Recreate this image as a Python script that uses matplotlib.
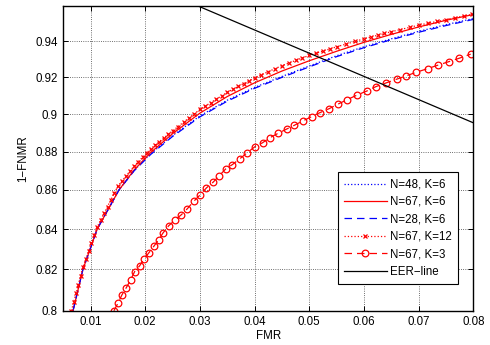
import matplotlib
matplotlib.use("Agg")
import matplotlib.pyplot as plt
from matplotlib.ticker import NullLocator, FixedLocator, FixedFormatter

plt.rcParams['font.family'] = ['Liberation Sans', 'DejaVu Sans']

# ---- data ----
x_k6_67 = [0.0068, 0.0086, 0.0112, 0.0152, 0.018, 0.021, 0.025, 0.030, 0.035, 0.040,
           0.045, 0.050, 0.055, 0.060, 0.065, 0.070, 0.075, 0.080]
y_k6_67 = [0.800, 0.820, 0.840, 0.860, 0.8705, 0.8795, 0.8895, 0.9005, 0.9095, 0.9170,
           0.9235, 0.9292, 0.9345, 0.9395, 0.9440, 0.9482, 0.9520, 0.9553]

x_k6_28 = [0.0068, 0.0086, 0.0112, 0.0152, 0.018, 0.021, 0.025, 0.030, 0.035, 0.040,
           0.045, 0.050, 0.055, 0.060, 0.065, 0.070, 0.075, 0.080]
y_k6_28 = [0.800, 0.820, 0.840, 0.860, 0.870, 0.8785, 0.8880, 0.8985, 0.907, 0.914,
           0.920, 0.9258, 0.9315, 0.9365, 0.941, 0.9452, 0.949, 0.9525]

x_k6_48 = [0.0068, 0.0086, 0.0112, 0.0152, 0.018, 0.021, 0.025, 0.030, 0.035, 0.040,
           0.045, 0.050, 0.055, 0.060, 0.065, 0.070, 0.075, 0.080]
y_k6_48 = [0.800, 0.820, 0.840, 0.860, 0.8702, 0.8789, 0.8885, 0.8990, 0.9075, 0.9145,
           0.9205, 0.9263, 0.9320, 0.9370, 0.9415, 0.9457, 0.9495, 0.9530]

x_k12 = [0.0065, 0.00692, 0.00734, 0.00776, 0.00818, 0.0086, 0.00912, 0.00964, 0.01016,
         0.01068, 0.0112, 0.01183, 0.01247, 0.0131, 0.01373, 0.01437, 0.0150, 0.01575,
         0.0165, 0.01725, 0.0180, 0.01875, 0.0195, 0.02025, 0.0210, 0.0218, 0.0226,
         0.0234, 0.0242, 0.0250, 0.026, 0.027, 0.028, 0.029, 0.030, 0.031, 0.032, 0.033,
         0.034, 0.035, 0.036, 0.037, 0.038, 0.039, 0.040, 0.04125, 0.0425, 0.04375, 0.045,
         0.04625, 0.0475, 0.04875, 0.050, 0.05125, 0.0525, 0.05375, 0.055, 0.05667,
         0.05833, 0.060, 0.06125, 0.0625, 0.06375, 0.065, 0.06667, 0.06833, 0.070,
         0.07167, 0.07333, 0.075, 0.07667, 0.07833, 0.0798]
y_k12 = [0.8000, 0.8042, 0.8084, 0.8126, 0.8168, 0.8210, 0.8250, 0.8290, 0.8330, 0.8370,
         0.8410, 0.8445, 0.8480, 0.8515, 0.8550, 0.8585, 0.8620, 0.86463, 0.86725, 0.86988,
         0.8725, 0.87475, 0.8770, 0.87925, 0.8815, 0.8834, 0.8853, 0.8872, 0.8891, 0.8910,
         0.8933, 0.8956, 0.8979, 0.9002, 0.9025, 0.90436, 0.90622, 0.90808, 0.90994, 0.9118,
         0.9134, 0.9150, 0.9166, 0.9182, 0.9198, 0.92148, 0.92315, 0.92483, 0.9265, 0.92793,
         0.92935, 0.93078, 0.9322, 0.9334, 0.9346, 0.9358, 0.9370, 0.9385, 0.9400, 0.9415,
         0.9425, 0.9435, 0.9445, 0.9455, 0.94673, 0.94797, 0.9492, 0.95027, 0.95133, 0.9524,
         0.95343, 0.95447, 0.9554]

x_k3 = [0.01427, 0.01500, 0.01573, 0.01654, 0.01733, 0.01806, 0.01897, 0.01976, 0.02062,
        0.02154, 0.02245, 0.02324, 0.02429, 0.02538, 0.02661, 0.02771, 0.02886, 0.02996,
        0.03119, 0.03240, 0.03344, 0.03473, 0.03595, 0.03729, 0.03863, 0.04004, 0.04145,
        0.04278, 0.04425, 0.04584, 0.04723, 0.04883, 0.05042, 0.05194, 0.05364, 0.05529,
        0.05694, 0.05872, 0.06049, 0.06220, 0.06403, 0.06595, 0.06769, 0.06958, 0.07172,
        0.07350, 0.07551, 0.07745, 0.07951]
y_k3 = [0.8000, 0.80357, 0.80758, 0.81113, 0.81490, 0.81897, 0.82178, 0.82510, 0.82808,
        0.83137, 0.83472, 0.83809, 0.84178, 0.84446, 0.84736, 0.85042, 0.85416, 0.85725,
        0.86106, 0.86397, 0.86709, 0.87095, 0.87321, 0.87620, 0.87937, 0.88254, 0.88467,
        0.88733, 0.88962, 0.89193, 0.89391, 0.89633, 0.89860, 0.90076, 0.90293, 0.90543,
        0.90782, 0.91028, 0.91247, 0.91494, 0.91693, 0.91897, 0.92079, 0.92284, 0.92490,
        0.92673, 0.92869, 0.93064, 0.93288]

x_eer = [0.0298, 0.080]
y_eer = [0.960, 0.8953]

labels = ["N=48, K=6", "N=67, K=6", "N=28, K=6", "N=67, K=12", "N=67, K=3", "EER\u2212line"]
xticks = [0.01, 0.02, 0.03, 0.04, 0.05, 0.06, 0.07, 0.08]
xticklabels = ["0.01", "0.02", "0.03", "0.04", "0.05", "0.06", "0.07", "0.08"]
yticks = [0.80, 0.82, 0.84, 0.86, 0.88, 0.90, 0.92, 0.94]
yticklabels = ["0.8", "0.82", "0.84", "0.86", "0.88", "0.9", "0.92", "0.94"]

# ---- figure ----
fs = 8.3
fig = plt.figure(figsize=(4.9, 3.45), dpi=100)
ax = fig.add_axes([0.129, 0.0994, 0.837, 0.8823])

lw = 0.9
ax.plot(x_k6_48, y_k6_48, color='#0000ff', ls=':', lw=lw, label=labels[0])
ax.plot(x_k6_67, y_k6_67, color='#ff0000', ls='-', lw=lw, label=labels[1])
ax.plot(x_k6_28, y_k6_28, color='#0000ff', ls=(0, (6, 4)), lw=lw, label=labels[2])
ax.plot(x_k12, y_k12, color='#ff0000', ls=':', lw=lw, marker='x', ms=3.4, mew=0.9,
        label=labels[3])
ax.plot(x_k3, y_k3, color='#ff0000', ls=(0, (6, 4)), lw=lw, marker='o', ms=4.8,
        mfc='none', mew=0.9, label=labels[4])
ax.plot(x_eer, y_eer, color='black', ls='-', lw=lw, label=labels[5])

ax.set_yscale('log')
ax.set_xlim(0.005, 0.08)
ax.set_ylim(0.8, 0.96)
ax.xaxis.set_major_locator(FixedLocator(xticks))
ax.xaxis.set_major_formatter(FixedFormatter(xticklabels))
ax.yaxis.set_major_locator(FixedLocator(yticks))
ax.yaxis.set_major_formatter(FixedFormatter(yticklabels))
ax.yaxis.set_minor_locator(NullLocator())
ax.xaxis.set_minor_locator(NullLocator())

ax.tick_params(direction='in', top=True, right=True, length=3.5, width=0.7,
               labelsize=fs, pad=4)
ax.grid(True, ls=':', color='0.25', lw=0.6)
for s in ax.spines.values():
    s.set_linewidth(1.0)

ax.set_xlabel("FMR", fontsize=fs, labelpad=1)
ax.set_ylabel("1\u2212FNMR", fontsize=fs, labelpad=4)

leg = ax.legend(loc='lower right', bbox_to_anchor=(0.9634, 0.0877), borderaxespad=0,
                fontsize=fs, fancybox=False, framealpha=1, edgecolor='black',
                handlelength=3.7, numpoints=1, labelspacing=0.47, borderpad=0.55,
                handletextpad=0.3)
leg.get_frame().set_linewidth(0.8)

fig.savefig("out.png", dpi=100)
